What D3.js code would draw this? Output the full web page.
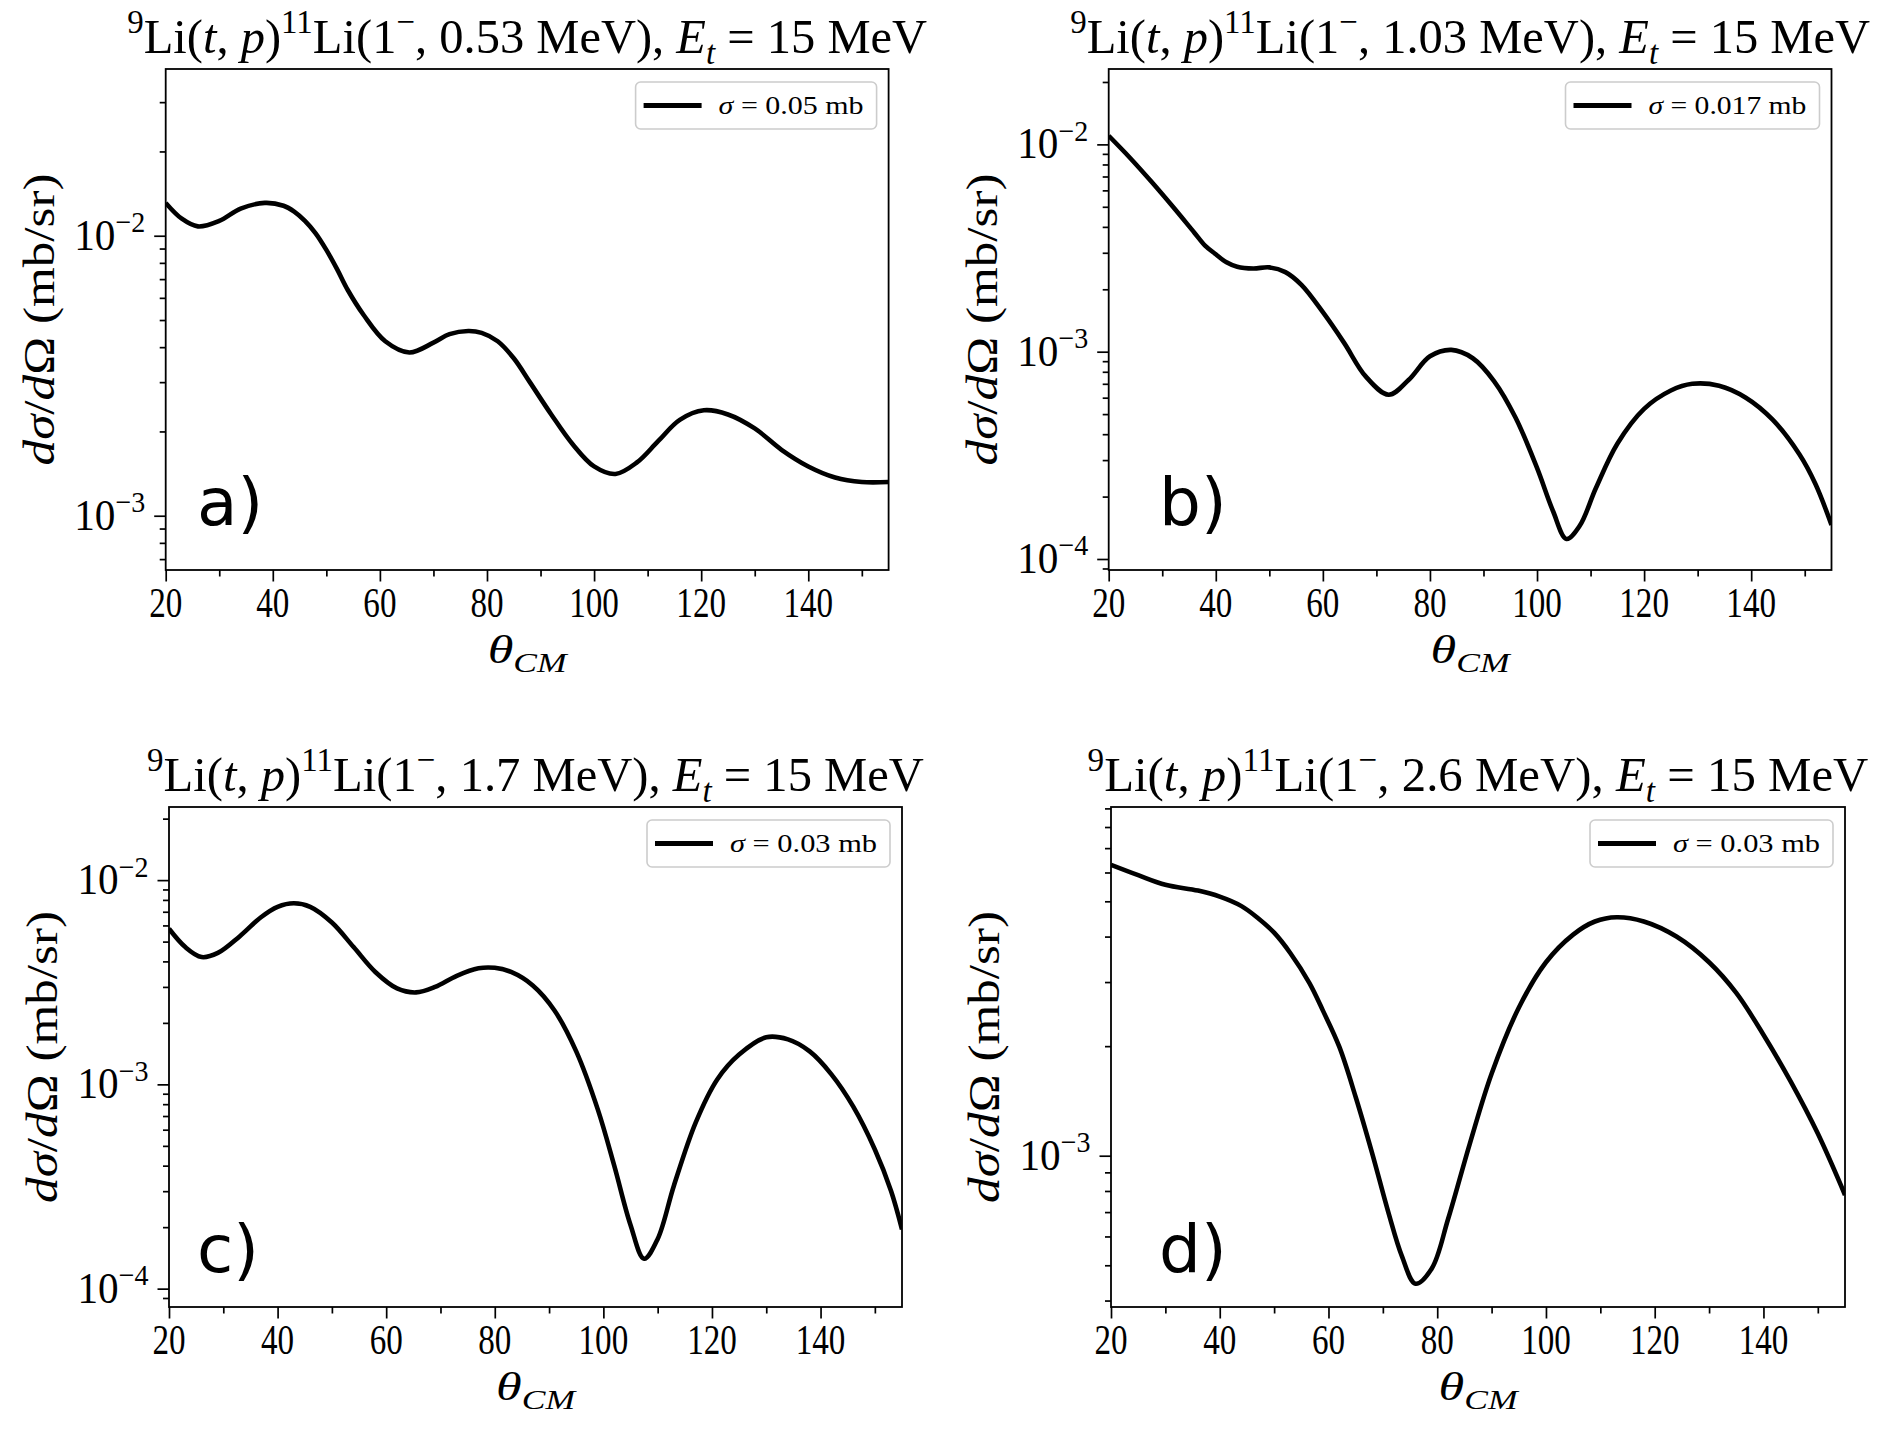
<!DOCTYPE html>
<html><head><meta charset="utf-8">
<script src="https://cdn.jsdelivr.net/npm/d3@7"></script>
<style>body{margin:0;background:#fff} svg{display:block}</style>
</head><body>
<svg id="chart" width="1886" height="1431"></svg>
<script>
// ---------------- data ----------------
const thetaA = [20, 23, 26, 30, 34, 38.5, 42, 44, 46, 48, 50, 52, 54, 57, 61, 65.5, 70, 73, 76.5, 79, 82, 85, 88, 92, 96, 100, 104, 108, 112, 116, 120.5, 125, 130, 135, 140, 145, 150, 155];
const sigmaA = [1.31e-2, 1.15e-2, 1.08e-2, 1.13e-2, 1.25e-2, 1.31e-2, 1.28e-2, 1.22e-2, 1.13e-2, 1.02e-2, 8.9e-3, 7.6e-3, 6.4e-3, 5.2e-3, 4.2e-3, 3.83e-3, 4.15e-3, 4.45e-3, 4.57e-3, 4.5e-3, 4.2e-3, 3.65e-3, 3.0e-3, 2.3e-3, 1.8e-3, 1.5e-3, 1.41e-3, 1.55e-3, 1.85e-3, 2.2e-3, 2.38e-3, 2.3e-3, 2.05e-3, 1.72e-3, 1.5e-3, 1.37e-3, 1.32e-3, 1.32e-3];

const thetaB = [20, 24, 28, 32, 36, 38, 40, 42, 44, 47, 50, 53, 56, 60, 64, 68, 72.3, 76, 80, 84, 88, 92, 96, 100, 103, 105.5, 108, 111, 115, 120, 125, 129, 134, 139, 144, 149, 152, 155];
const sigmaB = [1.1e-2, 8.6e-3, 6.6e-3, 5.0e-3, 3.75e-3, 3.25e-3, 2.95e-3, 2.7e-3, 2.57e-3, 2.52e-3, 2.55e-3, 2.42e-3, 2.1e-3, 1.55e-3, 1.1e-3, 7.6e-4, 6.2e-4, 7.3e-4, 9.5e-4, 1.02e-3, 9.3e-4, 7.2e-4, 4.8e-4, 2.75e-4, 1.7e-4, 1.25e-4, 1.45e-4, 2.2e-4, 3.6e-4, 5.3e-4, 6.5e-4, 7.0e-4, 6.85e-4, 6.0e-4, 4.7e-4, 3.2e-4, 2.3e-4, 1.46e-4];

const thetaC = [20, 23, 26, 29, 33, 37, 40, 43, 46, 50, 54, 58, 62, 65.5, 69, 73, 77, 80, 83, 87, 91, 95, 99, 102, 105, 107.5, 110, 113, 117, 121, 125, 130, 134, 138, 142, 146, 150, 153, 155];
const sigmaC = [5.78e-3, 4.7e-3, 4.2e-3, 4.4e-3, 5.3e-3, 6.6e-3, 7.4e-3, 7.7e-3, 7.4e-3, 6.2e-3, 4.7e-3, 3.55e-3, 2.95e-3, 2.82e-3, 3.0e-3, 3.4e-3, 3.7e-3, 3.72e-3, 3.55e-3, 3.05e-3, 2.3e-3, 1.45e-3, 7.5e-4, 4.0e-4, 2.05e-4, 1.4e-4, 1.75e-4, 3.2e-4, 6.5e-4, 1.06e-3, 1.4e-3, 1.7e-3, 1.66e-3, 1.45e-3, 1.12e-3, 7.8e-4, 4.8e-4, 3.0e-4, 1.95e-4];

const thetaD = [20, 25, 30, 36, 40, 44, 47, 50, 53, 56.5, 59, 62, 65, 68, 71, 73.5, 76, 79, 82, 86, 90, 95, 100, 105, 109, 113, 118, 124, 130, 135, 140, 145, 150, 155];
const sigmaD = [6.3e-3, 5.9e-3, 5.55e-3, 5.35e-3, 5.15e-3, 4.85e-3, 4.5e-3, 4.1e-3, 3.6e-3, 2.98e-3, 2.5e-3, 1.99e-3, 1.45e-3, 1.02e-3, 7.0e-4, 5.3e-4, 4.45e-4, 4.9e-4, 6.7e-4, 1.08e-3, 1.68e-3, 2.55e-3, 3.4e-3, 4.05e-3, 4.4e-3, 4.52e-3, 4.4e-3, 4.0e-3, 3.4e-3, 2.8e-3, 2.15e-3, 1.6e-3, 1.15e-3, 7.8e-4];

const stateEnergies = ["0.53", "1.03", "1.7", "2.6"];
const legendSigma = ["0.05", "0.017", "0.03", "0.03"];
const panelLetters = ["a)", "b)", "c)", "d)"];
const xTickMajor = [20, 40, 60, 80, 100, 120, 140];
const xTickMinor = [30, 50, 70, 90, 110, 130, 150];
const yLabelExps = [[-2, -3], [-2, -3, -4], [-2, -3, -4], [-3]];
const xDomain = [20, 155];
const yDomains = [[6.4e-4, 3.94e-2], [8.85e-5, 2.31e-2], [8.13e-5, 2.28e-2], [3.84e-4, 9.08e-3]];

// ---------------- layout ----------------
const boxes = [
  {x0: 165.7, x1: 888.6, y0: 69, y1: 570},
  {x0: 1108.7, x1: 1831.5, y0: 69, y1: 570},
  {x0: 169, x1: 902, y0: 807, y1: 1307},
  {x0: 1111, x1: 1845, y0: 807, y1: 1307}
];
const titleW = [800, 800, 777, 781];
const legendTextW = [145, 158, 147, 147];
const letterPos = [[197, 525], [1159, 525], [197, 1272], [1159, 1272]];

const series = [[thetaA, sigmaA], [thetaB, sigmaB], [thetaC, sigmaC], [thetaD, sigmaD]];

const FONT = "'Liberation Serif', 'Times New Roman', serif";
const svg = d3.select("#chart");
svg.append("rect").attr("width", 1886).attr("height", 1431).attr("fill", "#fff");

function rich(parent, parts, size) {
  const t = parent.append("text").attr("font-family", FONT).attr("font-size", size).attr("fill", "#000");
  let shift = 0;
  parts.forEach(p => {
    const o = typeof p === "string" ? {t: p} : p;
    let target = 0, fs = size;
    if (o.sup) { target = -0.40 * size; fs = 0.68 * size; }
    if (o.sub) { target = 0.22 * size; fs = 0.68 * size; }
    const ts = t.append("tspan").text(o.t).attr("font-size", fs).attr("dy", target - shift);
    if (o.it) ts.attr("font-style", "italic");
    shift = target;
  });
  return t;
}
function place(parent, parts, size, x, y, opts) {
  const g = parent.append("g");
  const t = rich(g, parts, size).attr("text-anchor", opts.anchor || "start");
  const w = t.node().getComputedTextLength();
  const s = opts.w ? opts.w / w : (opts.sx || 1);
  g.attr("transform", `translate(${x},${y}) rotate(${opts.rot || 0}) scale(${s},1)`);
  return g;
}

series.forEach(([th, sg], i) => {
  const b = boxes[i];
  const g = svg.append("g");
  const x = d3.scaleLinear().domain(xDomain).range([b.x0, b.x1]);
  const y = d3.scaleLog().domain(yDomains[i]).range([b.y1, b.y0]);

  // ticks
  const styleAxis = sel => { sel.select(".domain").remove(); sel.selectAll("line").attr("stroke", "#000").attr("stroke-width", 1.7); };
  g.append("g").attr("transform", `translate(0,${b.y1})`)
    .call(d3.axisBottom(x).tickValues(xTickMajor).tickSize(11.5).tickFormat("")).call(styleAxis);
  g.append("g").attr("transform", `translate(0,${b.y1})`)
    .call(d3.axisBottom(x).tickValues(xTickMinor).tickSize(6.5).tickFormat("")).call(styleAxis);
  const majorVals = yLabelExps[i].map(e => Math.pow(10, e));
  const minorVals = y.ticks().filter(v => Math.abs(Math.log10(v) - Math.round(Math.log10(v))) > 1e-6);
  g.append("g").attr("transform", `translate(${b.x0},0)`)
    .call(d3.axisLeft(y).tickValues(majorVals).tickSize(11.5).tickFormat("")).call(styleAxis);
  g.append("g").attr("transform", `translate(${b.x0},0)`)
    .call(d3.axisLeft(y).tickValues(minorVals).tickSize(6).tickFormat("")).call(styleAxis);

  // tick labels
  xTickMajor.forEach(v => place(g, [String(v)], 43, x(v), b.y1 + 47, {anchor: "middle", sx: 0.77}));
  yLabelExps[i].forEach(e => place(g, ["10", {t: "\u2212" + Math.abs(e), sup: true}], 44, b.x0 - 20.5, y(Math.pow(10, e)) + 14, {anchor: "end", w: 71}));

  // curve
  const cid = "clip" + i;
  svg.append("clipPath").attr("id", cid).append("rect")
    .attr("x", b.x0).attr("y", b.y0).attr("width", b.x1 - b.x0).attr("height", b.y1 - b.y0);
  const pts = th.map((t, k) => [t, sg[k]]);
  g.append("path").datum(pts).attr("clip-path", `url(#${cid})`)
    .attr("fill", "none").attr("stroke", "#000").attr("stroke-width", 4.6).attr("stroke-linejoin", "round")
    .attr("d", d3.line().x(d => x(d[0])).y(d => y(d[1])).curve(d3.curveCatmullRom.alpha(0.5)));

  // frame
  g.append("rect").attr("x", b.x0).attr("y", b.y0).attr("width", b.x1 - b.x0).attr("height", b.y1 - b.y0)
    .attr("fill", "none").attr("stroke", "#000").attr("stroke-width", 1.8);

  // title
  place(g, [{t: "9", sup: true}, "Li(", {t: "t", it: true}, ", ", {t: "p", it: true}, ")", {t: "11", sup: true},
    "Li(1", {t: "\u2212", sup: true}, ", " + stateEnergies[i] + " MeV), ", {t: "E", it: true}, {t: "t", it: true, sub: true}, " = 15 MeV"],
    49, (b.x0 + b.x1) / 2, b.y0 - 16, {anchor: "middle", w: titleW[i]});

  // axis labels
  place(g, [{t: "\u03b8", it: true}, {t: "CM", it: true, sub: true}], 41, (b.x0 + b.x1) / 2, b.y1 + 93, {anchor: "middle", w: 79});
  place(g, [{t: "d\u03c3", it: true}, "/", {t: "d", it: true}, "\u03a9 (mb/sr)"], 45, b.x0 - 112, (b.y0 + b.y1) / 2, {anchor: "middle", w: 292, rot: -90});

  // legend
  const lg = g.append("g");
  place(lg, [{t: "\u03c3", it: true}, " = " + legendSigma[i] + " mb"], 25, 83, 32, {anchor: "start", w: legendTextW[i]});
  const W = 83 + legendTextW[i] + 13;
  lg.insert("rect", ":first-child").attr("x", 0).attr("y", 0).attr("width", W).attr("height", 47).attr("rx", 5)
    .attr("fill", "#fff").attr("stroke", "#cccccc").attr("stroke-width", 1.6);
  lg.append("line").attr("x1", 8).attr("x2", 66).attr("y1", 23.5).attr("y2", 23.5).attr("stroke", "#000").attr("stroke-width", 5);
  lg.attr("transform", `translate(${b.x1 - 12 - W},${b.y0 + 13})`);

  // panel letter
  g.append("text").attr("x", letterPos[i][0]).attr("y", letterPos[i][1])
    .attr("font-family", "'DejaVu Sans', sans-serif").attr("font-size", 66).text(panelLetters[i]);
});
</script>
</body></html>
